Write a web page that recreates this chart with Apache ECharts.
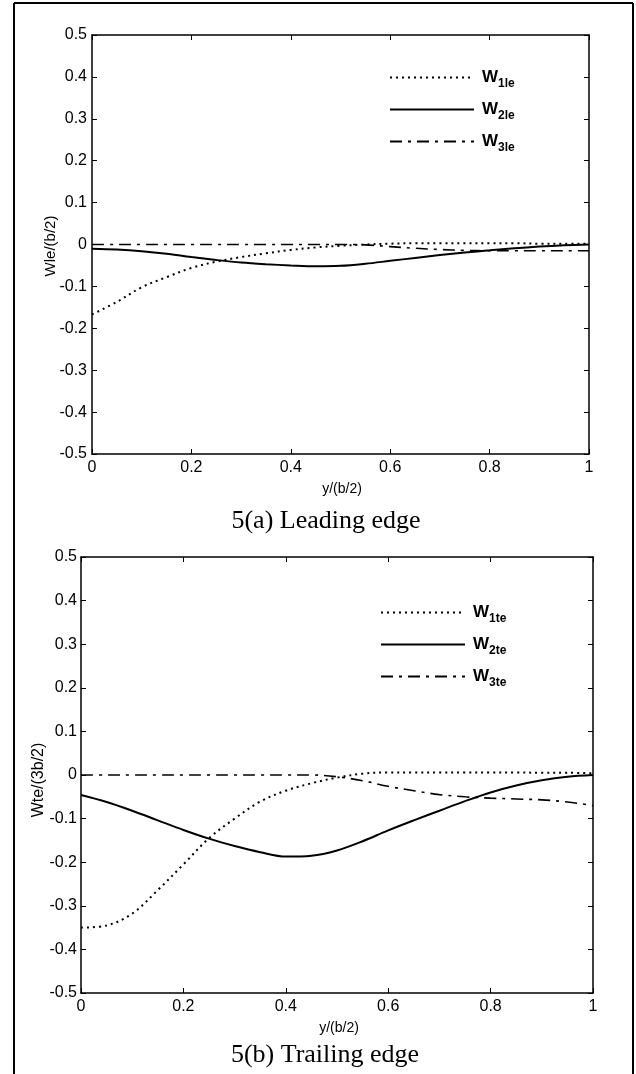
<!DOCTYPE html>
<html>
<head>
<meta charset="utf-8">
<script src="https://cdn.jsdelivr.net/npm/echarts@6/dist/echarts.min.js"></script>
<style>
html,body{margin:0;padding:0;background:#fff;}
#c{width:636px;height:1074px;}
</style>
</head>
<body>
<div id="c"></div>
<script>
// ---- data ----
const xs = [0,0.05,0.1,0.15,0.2,0.25,0.3,0.35,0.4,0.45,0.5,0.55,0.6,0.65,0.7,0.75,0.8,0.85,0.9,0.95,1];
const xTicks = [0,0.2,0.4,0.6,0.8,1];
const yTicks = [-0.5,-0.4,-0.3,-0.2,-0.1,0,0.1,0.2,0.3,0.4,0.5];

// 5(a) Leading edge
const w1le = [-0.167,-0.137,-0.102,-0.078,-0.056,-0.041,-0.030,-0.021,-0.013,-0.007,-0.003,0.000,0.002,0.003,0.003,0.003,0.003,0.003,0.002,0.002,0.002];
const w2le = [-0.010,-0.012,-0.016,-0.022,-0.030,-0.037,-0.043,-0.047,-0.050,-0.052,-0.051,-0.046,-0.039,-0.032,-0.025,-0.019,-0.014,-0.009,-0.005,-0.002,0.000];
const w3le = [0,0,0,0,0,0,0,0,0,0,0,-0.001,-0.005,-0.009,-0.012,-0.014,-0.015,-0.015,-0.015,-0.015,-0.015];

// 5(b) Trailing edge
const w1te = [-0.350,-0.345,-0.318,-0.264,-0.205,-0.145,-0.100,-0.061,-0.036,-0.019,-0.006,0.003,0.006,0.006,0.006,0.006,0.006,0.006,0.005,0.005,0.004];
const w2te = [-0.046,-0.062,-0.082,-0.104,-0.126,-0.146,-0.163,-0.177,-0.187,-0.185,-0.173,-0.152,-0.127,-0.104,-0.082,-0.060,-0.040,-0.024,-0.012,-0.004,0.000];
const w3te = [0,0,0,0,0,0,0,0,0,0,-0.004,-0.013,-0.026,-0.036,-0.045,-0.050,-0.053,-0.055,-0.057,-0.062,-0.070];

const names = {
  a: ['W1le','W2le','W3le'],
  b: ['W1te','W2te','W3te']
};

// ---- helpers ----
const pair = (ys) => xs.map((x, i) => [x, ys[i]]);
const fmt = (v) => {
  const r = Math.round(v * 10) / 10;
  return r === 0 ? '0' : String(r);
};
const FONT = 'Liberation Sans, Arial, sans-serif';
const SERIF = 'Liberation Serif, Times New Roman, serif';

function xAxisPair(gi) {
  const base = {
    gridIndex: gi, type: 'value', min: 0, max: 1, interval: 0.2,
    axisLine: {show: true, onZero: false, lineStyle: {color: '#000', width: 1.5}},
    axisTick: {show: true, inside: true, length: 5, lineStyle: {color: '#000', width: 1}},
    splitLine: {show: false}
  };
  return [
    Object.assign({}, base, {position: 'bottom',
      axisLabel: {show: true, margin: 6, color: '#000', fontSize: 16, fontFamily: FONT, formatter: fmt}}),
    Object.assign({}, base, {position: 'top', axisLabel: {show: false}})
  ];
}
function yAxisPair(gi, margin) {
  const base = {
    gridIndex: gi, type: 'value', min: -0.5, max: 0.5, interval: 0.1,
    axisLine: {show: true, onZero: false, lineStyle: {color: '#000', width: 1.5}},
    axisTick: {show: true, inside: true, length: 5, lineStyle: {color: '#000', width: 1}},
    splitLine: {show: false}
  };
  return [
    Object.assign({}, base, {position: 'left',
      axisLabel: {show: true, margin: margin, color: '#000', fontSize: 16, fontFamily: FONT, formatter: fmt}}),
    Object.assign({}, base, {position: 'right', axisLabel: {show: false}})
  ];
}

const lineStyles = [
  {color: '#000', width: 2, type: [2, 4]},
  {color: '#000', width: 2, type: 'solid'},
  {color: '#000', width: 1.6, type: [12, 6, 3, 6]}
];

function mkSeries(name, ys, k, ax) {
  return {
    name: name, type: 'line', xAxisIndex: ax, yAxisIndex: ax,
    data: pair(ys), symbol: 'none', smooth: 0.35,
    lineStyle: lineStyles[k], itemStyle: {color: '#000'},
    animation: false, z: 3
  };
}

const richSub = {
  w: {fontSize: 17, fontFamily: FONT, color: '#000', fontWeight: 'bold'},
  s: {fontSize: 12, fontFamily: FONT, color: '#000', fontWeight: 'bold', padding: [13, 0, 0, 0]}
};
const legendFmt = (n) => '{w|W}{s|' + n.slice(1) + '}';

function mkLegend(list, left, top) {
  return {
    show: true,
    orient: 'vertical', left: left, top: top, padding: 0,
    itemWidth: 84, itemHeight: 14, itemGap: 11,
    data: list,
    formatter: legendFmt,
    itemStyle: {opacity: 0},
    textStyle: {rich: richSub, padding: [0, 0, 0, 3]},
    selectedMode: false
  };
}

const xa = xAxisPair(0).concat(xAxisPair(1));
const ya = yAxisPair(0, 5).concat(yAxisPair(1, 4));

const option = {
  backgroundColor: '#fff',
  animation: false,
  grid: [
    {left: 92, top: 35, width: 497, height: 419},
    {left: 81, top: 557, width: 512, height: 436}
  ],
  xAxis: xa,
  yAxis: ya,
  legend: [
    mkLegend(names.a, 389, 69),
    mkLegend(names.b, 380, 604)
  ],
  series: [
    mkSeries(names.a[0], w1le, 0, 0),
    mkSeries(names.a[1], w2le, 1, 0),
    mkSeries(names.a[2], w3le, 2, 0),
    mkSeries(names.b[0], w1te, 0, 2),
    mkSeries(names.b[1], w2te, 1, 2),
    mkSeries(names.b[2], w3te, 2, 2)
  ],
  graphic: [
    // figure frame
    {type: 'line', shape: {x1: 14, y1: 3, x2: 14, y2: 1074}, style: {stroke: '#000', lineWidth: 2}},
    {type: 'line', shape: {x1: 14, y1: 3, x2: 633, y2: 3}, style: {stroke: '#000', lineWidth: 2}},
    {type: 'line', shape: {x1: 633, y1: 3, x2: 633, y2: 1074}, style: {stroke: '#000', lineWidth: 2}},
    // axis titles
    {type: 'text', x: 51, y: 246, rotation: Math.PI / 2,
      style: {text: 'Wle/(b/2)', font: '15px ' + FONT, fill: '#000', align: 'center', verticalAlign: 'middle'}},
    {type: 'text', x: 342, y: 489,
      style: {text: 'y/(b/2)', font: '14px ' + FONT, fill: '#000', align: 'center', verticalAlign: 'middle'}},
    {type: 'text', x: 39, y: 780, rotation: Math.PI / 2,
      style: {text: 'Wte/(3b/2)', font: '16px ' + FONT, fill: '#000', align: 'center', verticalAlign: 'middle'}},
    {type: 'text', x: 339, y: 1028,
      style: {text: 'y/(b/2)', font: '14px ' + FONT, fill: '#000', align: 'center', verticalAlign: 'middle'}},
    // captions
    {type: 'text', x: 326, y: 521,
      style: {text: '5(a) Leading edge', font: '26px ' + SERIF, fill: '#000', align: 'center', verticalAlign: 'middle'}},
    {type: 'text', x: 325, y: 1055,
      style: {text: '5(b) Trailing edge', font: '26px ' + SERIF, fill: '#000', align: 'center', verticalAlign: 'middle'}}
  ]
};

const chart = echarts.init(document.getElementById('c'), null, {renderer: 'canvas'});
chart.setOption(option);
</script>
</body>
</html>
